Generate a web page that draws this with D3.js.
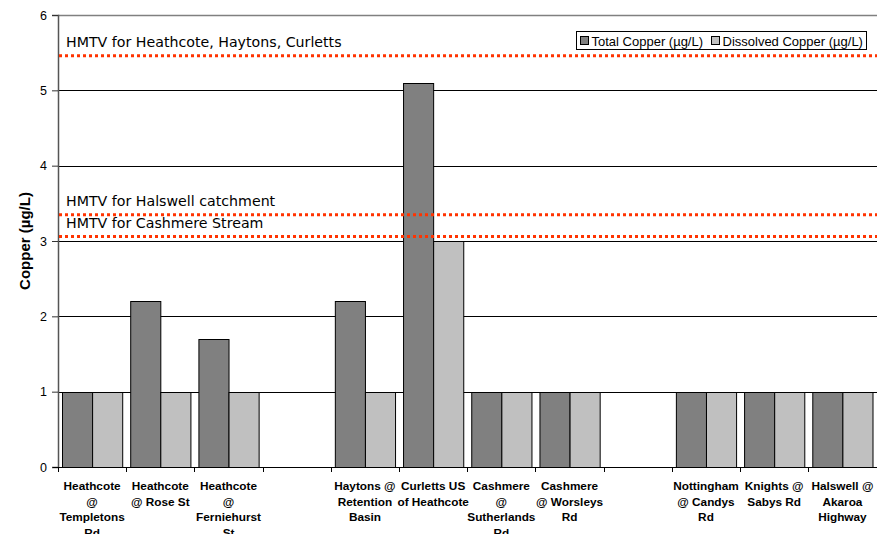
<!DOCTYPE html>
<html><head><meta charset="utf-8">
<script src="https://cdn.jsdelivr.net/npm/d3@7"></script>
<style>body{margin:0;background:#fff}svg{display:block}</style>
</head><body>
<svg id="c" width="877" height="534"></svg>
<script>
const categories = [
  "Heathcote\n@\nTempletons\nRd",
  "Heathcote\n@ Rose St",
  "Heathcote\n@\nFerniehurst\nSt",
  "",
  "Haytons @\nRetention\nBasin",
  "Curletts US\nof Heathcote",
  "Cashmere\n@\nSutherlands\nRd",
  "Cashmere\n@ Worsleys\nRd",
  "",
  "Nottingham\n@ Candys\nRd",
  "Knights @\nSabys Rd",
  "Halswell @\nAkaroa\nHighway"
];
const seriesNames = ["Total Copper (µg/L)", "Dissolved Copper (µg/L)"];
const totalCopper =     [1, 2.2, 1.7, null, 2.2, 5.1, 1, 1, null, 1, 1, 1];
const dissolvedCopper = [1, 1,   1,   null, 1,   3,   1, 1, null, 1, 1, 1];
const yTicks = [0, 1, 2, 3, 4, 5, 6];
const hmtvLabels = ["HMTV for Heathcote, Haytons, Curletts", "HMTV for Halswell catchment", "HMTV for Cashmere Stream"];
const hmtvValues = [5.46, 3.35, 3.06];
const yTitle = "Copper (µg/L)";

const colors = ["#808080", "#c0c0c0"];
const svg = d3.select("#c");
const L = 58, R = 876.5, T = 15, B = 467;
const arial = "Arial, 'Liberation Sans', sans-serif";

const x0 = d3.scaleBand().domain(d3.range(categories.length)).range([L, R]).padding(0);
const x1 = d3.scaleBand().domain([0, 1]).range([4, x0.bandwidth() - 4]).padding(0);
const y = d3.scaleLinear().domain([0, 6]).range([B, T]);

// gridlines
svg.append("g").selectAll("line").data(yTicks.filter(t => t > 0 && t < 6)).join("line")
  .attr("x1", L).attr("x2", R + 0.5).attr("y1", d => Math.round(y(d)) + 0.5).attr("y2", d => Math.round(y(d)) + 0.5)
  .attr("stroke", "#000").attr("stroke-width", 1);
svg.append("line").attr("x1", L).attr("x2", R + 0.5).attr("y1", Math.round(y(6)) + 0.5).attr("y2", Math.round(y(6)) + 0.5)
  .attr("stroke", "#808080").attr("stroke-width", 1.5);

// bars
const data = categories.map((c, i) => ({i, vals: [totalCopper[i], dissolvedCopper[i]]}));
const g = svg.append("g").selectAll("g").data(data).join("g")
  .attr("transform", d => `translate(${x0(d.i)},0)`);
g.selectAll("rect").data(d => d.vals.map((v, k) => ({v, k})).filter(e => e.v != null)).join("rect")
  .attr("x", e => x1(e.k) + 0.5)
  .attr("width", x1.bandwidth())
  .attr("y", e => Math.round(y(e.v)) + 0.5)
  .attr("height", e => B - Math.round(y(e.v)))
  .attr("fill", e => colors[e.k]).attr("stroke", "#000").attr("stroke-width", 1);

// y axis
const yAxis = d3.axisLeft(y).tickValues(yTicks).tickSize(6).tickPadding(5).tickFormat(d3.format("d"));
const ya = svg.append("g").attr("transform", `translate(${L},0)`).call(yAxis);
ya.select(".domain").attr("stroke", "#555").attr("stroke-width", 1.5);
ya.selectAll(".tick line").attr("stroke", "#333");
ya.selectAll("text").attr("font-family", arial).attr("font-size", 12.5).attr("fill", "#000");

// x axis
const xa = svg.append("g").attr("transform", `translate(0,${B})`);
xa.append("line").attr("x1", L - 5).attr("x2", R + 0.5).attr("y1", 0.5).attr("y2", 0.5).attr("stroke", "#000");
xa.selectAll("line.tk").data(d3.range(categories.length + 1)).join("line").attr("class", "tk")
  .attr("x1", d => Math.round(L + d * x0.bandwidth()) + 0.5).attr("x2", d => Math.round(L + d * x0.bandwidth()) + 0.5)
  .attr("y1", 0).attr("y2", 5).attr("stroke", "#000");
xa.selectAll("text").data(categories).join("text")
  .attr("text-anchor", "middle")
  .attr("font-family", arial).attr("font-size", 11.8).attr("font-weight", "bold")
  .attr("transform", (d, i) => `translate(${x0(i) + x0.bandwidth() / 2},23)`)
  .each(function(d) {
    d.split("\n").forEach((line, j) => {
      d3.select(this).append("tspan").attr("x", 0).attr("y", j * 15.5).text(line);
    });
  });

// y title
svg.append("text").attr("transform", `translate(30,${(T + B) / 2}) rotate(-90)`)
  .attr("text-anchor", "middle").attr("font-family", arial)
  .attr("font-size", 15).attr("font-weight", "bold").text(yTitle);

// HMTV lines
svg.append("g").selectAll("line").data(hmtvValues).join("line")
  .attr("x1", L + 1).attr("x2", R + 0.5).attr("y1", d => y(d)).attr("y2", d => y(d))
  .attr("stroke", "#ff3300").attr("stroke-width", 3).attr("stroke-dasharray", "3,3");
const labelOffsets = [-9, -9, -8];
svg.append("g").selectAll("text").data(hmtvLabels).join("text")
  .attr("x", 66).attr("y", (d, i) => y(hmtvValues[i]) + labelOffsets[i])
  .attr("font-family", "'DejaVu Sans', Verdana, sans-serif").attr("font-size", 14.2).attr("fill", "#000")
  .text(d => d);

// legend
const lg = svg.append("g").attr("transform", "translate(576.5,31.5)");
lg.append("rect").attr("width", 290).attr("height", 18).attr("fill", "#fff").attr("stroke", "#000");
const itemX = [4, 135];
seriesNames.forEach((n, k) => {
  lg.append("rect").attr("x", itemX[k]).attr("y", 5).attr("width", 8).attr("height", 8)
    .attr("fill", colors[k]).attr("stroke", "#000");
  lg.append("text").attr("x", itemX[k] + 11).attr("y", 14)
    .attr("font-family", arial).attr("font-size", 13).text(n);
});
</script>
</body></html>
